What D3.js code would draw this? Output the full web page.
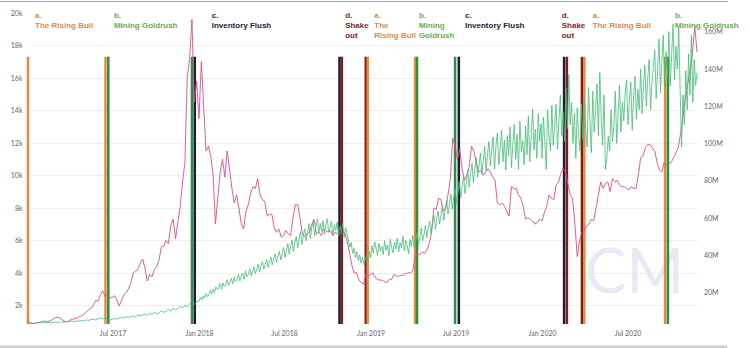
<!DOCTYPE html>
<html>
<head>
<meta charset="utf-8">
<script src="https://cdn.jsdelivr.net/npm/d3@7"></script>
<style>
  body { margin: 0; background: #fff; }
  .axis text { font-family: Lato, 'Open Sans', sans-serif; font-size: 7px; fill: #666; }
  .axis path { display: none; }
  .phase-label { font-family: 'Liberation Sans', Arial, sans-serif; font-size: 8px; font-weight: bold; }
</style>
</head>
<body>
<div id="chart"></div>
<script>
// BTC price (thousand USD), one value every 5 days from Jan 1 of each year
const price2017 = [1.00, 0.92, 0.86, 0.90, 0.93, 0.95, 0.98, 1.03, 1.00, 1.02, 1.06, 1.17, 1.25, 1.27, 1.20, 1.10,
  1.00, 0.98, 1.08, 1.13, 1.18, 1.21, 1.30, 1.35, 1.45, 1.58, 1.72, 1.80, 2.00, 2.30, 2.25, 2.60,
  2.90, 2.55, 2.65, 2.50, 2.45, 2.60, 2.35, 1.95, 2.30, 2.65, 2.80, 3.00, 3.40, 4.00, 4.10, 4.20,
  4.60, 4.85, 4.30, 3.50, 3.90, 3.75, 4.20, 4.40, 4.80, 5.60, 5.65, 6.00, 5.80, 6.90, 7.30, 6.10,
  7.10, 8.10, 9.60, 10.80, 16.00, 17.20, 19.60, 14.50, 15.80];
const price2018 = [13.50, 17.00, 14.20, 11.50, 11.80, 11.20, 10.00, 7.00, 8.60, 10.20, 11.00, 9.90, 11.50, 10.40, 9.20, 8.30,
  8.80, 8.00, 7.00, 6.70, 7.80, 8.20, 8.90, 9.30, 9.20, 9.80, 8.80, 8.50, 8.40, 7.50, 7.60, 7.60,
  6.80, 6.50, 6.70, 6.20, 6.30, 6.60, 6.40, 6.30, 7.40, 8.20, 8.20, 7.40, 6.40, 6.20, 6.40, 6.50,
  7.00, 7.30, 6.40, 6.50, 6.30, 6.70, 6.60, 6.50, 6.60, 6.30, 6.50, 6.40, 6.40, 6.40, 6.50, 6.00,
  5.30, 4.50, 4.00, 4.00, 3.60, 3.40, 3.30, 3.90, 3.80];
const price2019 = [3.90, 4.00, 3.70, 3.60, 3.55, 3.55, 3.45, 3.40, 3.60, 3.60, 3.90, 3.80, 3.80, 3.85, 3.85, 3.95,
  4.00, 4.00, 4.10, 5.00, 5.20, 5.10, 5.30, 5.20, 5.40, 5.80, 6.50, 8.00, 7.90, 8.60, 8.50, 7.80,
  8.00, 8.80, 9.80, 12.30, 11.80, 11.00, 11.60, 10.40, 9.70, 10.00, 10.50, 11.80, 11.50, 10.80, 10.20, 10.30,
  10.00, 10.20, 10.40, 10.20, 9.90, 9.70, 8.30, 8.20, 8.30, 8.10, 7.80, 7.50, 9.30, 9.20, 9.20, 8.80,
  8.60, 8.10, 7.30, 7.40, 7.30, 7.20, 7.00, 7.10, 7.30];
const price2020 = [7.20, 7.70, 8.10, 8.80, 8.60, 8.50, 9.40, 9.60, 10.10, 10.40, 10.20, 9.50, 8.80, 8.60, 7.00, 5.00,
  6.00, 6.50, 6.60, 6.90, 7.00, 7.30, 7.20, 8.00, 8.80, 9.60, 9.20, 9.50, 9.60, 9.00, 9.80, 9.60,
  9.70, 9.40, 9.30, 9.30, 9.20, 9.10, 9.30, 9.20, 9.20, 10.00, 11.10, 11.20, 11.70, 11.90, 11.90, 11.70,
  11.50, 10.80, 10.30, 10.20, 10.80, 10.60, 10.70, 10.80, 11.10, 11.40, 11.70, 12.60, 13.60, 14.80, 15.60, 16.40,
  17.50, 19.20, 17.60];
const priceSteps = [5, 5, 5, 5];

// hash rate (million TH/s); 5-day spacing in 2017, 3-day spacing after
const hashRate2017 = [3.4, 3.6, 3.5, 3.3, 3.7, 3.5, 3.8, 3.6, 3.7, 3.9, 3.6, 4.0, 3.9, 3.8, 4.2, 4.0,
  4.3, 4.1, 4.4, 4.5, 4.2, 4.7, 4.5, 4.9, 4.7, 5.2, 4.9, 5.4, 5.6, 5.2, 5.8, 6.1,
  5.8, 6.3, 5.4, 5.0, 5.5, 5.9, 5.6, 6.2, 6.6, 6.1, 7.0, 6.5, 6.9, 7.4, 6.8, 7.9,
  7.3, 7.8, 8.4, 7.6, 8.7, 8.2, 9.3, 8.5, 8.9, 10.1, 9.2, 9.9, 10.8, 9.8, 11.4, 10.6,
  11.2, 12.6, 11.5, 13.2, 12.1, 13.9, 14.6, 13.3, 15.2];
const hashRate2018 = [15.2, 17.4, 16.0, 18.2, 16.8, 19.4, 17.6, 18.8, 21.0, 19.2,
  21.8, 19.8, 23.0, 21.4, 22.2, 24.6, 21.6, 25.0, 23.2, 24.0,
  26.8, 23.8, 25.4, 27.6, 24.6, 28.4, 25.8, 27.0, 29.6, 26.2,
  28.6, 30.4, 27.0, 31.6, 28.4, 29.8, 32.6, 28.8, 31.2, 33.8,
  30.0, 32.6, 35.2, 31.0, 34.0, 36.4, 32.4, 35.0, 37.6, 33.4,
  36.2, 39.0, 34.8, 38.0, 40.6, 36.0, 39.4, 42.0, 37.4, 40.8,
  44.0, 38.8, 42.6, 46.2, 40.4, 44.8, 48.0, 42.0, 46.6, 50.0,
  43.8, 48.4, 52.6, 45.6, 50.4, 54.0, 47.6, 52.2, 56.8, 49.0,
  54.4, 58.0, 50.2, 55.6, 59.4, 51.8, 57.0, 53.0, 58.6, 51.0,
  56.8, 59.6, 52.4, 55.0, 58.2, 50.6, 56.4, 53.2, 57.8, 50.2,
  55.6, 52.0, 57.2, 49.4, 54.8, 51.6, 48.0, 44.2, 46.8, 41.0,
  43.6, 38.6, 41.8, 37.0, 40.2, 35.6, 38.8, 34.8, 37.6, 40.0,
  37.0, 42.0];
const hashRate2019 = [38.5, 45.0, 41.0, 47.2, 43.5, 39.8, 46.4, 42.0, 44.8, 40.2,
  47.8, 42.6, 45.4, 39.6, 48.6, 44.0, 41.2, 47.0, 43.2, 49.0,
  41.8, 46.6, 44.0, 50.2, 42.4, 47.8, 45.2, 40.8, 48.4, 44.6,
  50.6, 43.8, 47.4, 52.0, 46.0, 49.2, 54.6, 47.8, 51.0, 56.0,
  49.4, 54.8, 58.2, 51.6, 57.0, 61.4, 54.0, 59.8, 63.6, 56.8,
  61.2, 66.8, 58.6, 64.4, 69.6, 62.0, 67.2, 72.8, 64.6, 70.4,
  75.6, 67.8, 73.2, 79.4, 70.6, 76.8, 82.4, 73.0, 79.0, 85.6,
  76.4, 83.8, 89.2, 79.0, 86.6, 92.4, 81.8, 88.0, 94.8, 83.6,
  90.8, 98.4, 85.4, 94.2, 101.0, 88.0, 96.6, 103.4, 86.2, 99.0,
  105.6, 88.4, 97.2, 107.0, 90.0, 101.8, 85.6, 104.2, 93.4, 108.8,
  87.0, 99.6, 110.2, 91.4, 104.8, 86.0, 112.0, 95.6, 101.4, 88.6,
  109.4, 93.8, 114.6, 90.2, 104.0, 118.2, 96.4, 107.6, 92.0, 116.0,
  101.2, 110.6];
const hashRate2020 = [92.0, 114.0, 101.0, 86.0, 118.0, 104.0, 96.0, 120.6, 99.0, 110.0,
  121.0, 97.0, 112.0, 126.0, 104.0, 117.0, 101.0, 130.0, 108.0, 137.0,
  110.0, 122.0, 100.0, 116.0, 92.0, 119.0, 104.0, 96.0, 121.0, 102.0,
  124.0, 108.0, 98.0, 130.0, 112.0, 95.0, 128.0, 106.0, 117.0, 132.0,
  104.0, 138.0, 114.0, 99.0, 126.0, 86.0, 92.0, 104.0, 96.0, 118.0,
  101.0, 110.0, 128.0, 100.0, 116.0, 131.0, 106.0, 122.0, 112.0, 127.0,
  134.0, 110.0, 123.0, 133.0, 107.0, 126.0, 136.0, 113.0, 129.0, 118.0,
  140.0, 116.0, 131.0, 142.0, 120.0, 135.0, 145.0, 118.0, 132.0, 141.0,
  150.0, 124.0, 139.0, 156.0, 127.0, 144.0, 158.0, 130.0, 149.0, 136.0,
  160.0, 131.0, 148.0, 164.0, 134.0, 152.0, 140.0, 162.0, 128.0, 98.0,
  126.0, 110.0, 139.0, 118.0, 148.0, 126.0, 158.0, 122.0, 145.0, 131.0,
  138.0];
const hashSteps = [5, 3, 3, 3];

const seriesYears = [2017, 2018, 2019, 2020];

// cycle phases: vertical lines mark where each phase starts / ends
const phaseKeys = ['a', 'b', 'c', 'd', 'a', 'b', 'c', 'd', 'a', 'b'];
const phaseStarts = ['2017-01-02', '2017-06-22', '2017-12-23', '2018-11-01', '2018-12-26',
  '2019-04-10', '2019-07-08', '2020-02-23', '2020-03-31', '2020-09-25'];
const phaseEnds = ['2017-06-16', '2017-12-17', '2018-10-27', '2018-12-22', '2019-04-06',
  '2019-06-30', '2020-02-17', '2020-03-26', '2020-09-19', null];
const labelDates = ['2017-01-17', '2017-07-04', '2018-01-28', '2018-11-08', '2019-01-09',
  '2019-04-14', '2019-07-21', '2020-02-12', '2020-04-18', '2020-10-10'];
const labelLines = [
  ['a.', 'The Rising Bull'], ['b.', 'Mining Goldrush'], ['c.', 'Inventory Flush'], ['d.', 'Shake', 'out'],
  ['a.', 'The', 'Rising Bull'], ['b.', 'Mining', 'Goldrush'], ['c.', 'Inventory Flush'], ['d.', 'Shake', 'out'],
  ['a.', 'The Rising Bull'], ['b.', 'Mining Goldrush']
];

const priceTicks = [2, 4, 6, 8, 10, 12, 14, 16, 18, 20];       // k USD
const hashTicks = [20, 40, 60, 80, 100, 120, 140, 160];       // M TH/s
const timeTicks = ['2017-07-01', '2018-01-01', '2018-07-01', '2019-01-01', '2019-07-01', '2020-01-01', '2020-07-01'];

class CycleChart {

  constructor(_config) {
    this.config = {
      parentElement: _config.parentElement,
      containerWidth: 750,
      containerHeight: 348,
      plot: { left: 27.5, right: 698, top: 13, bottom: 324 }
    };
    this.parseDate = d3.timeParse('%Y-%m-%d');
    this.phaseColors = { a: '#e8893b', b: '#27913f', c: '#1d1a3a', d: '#7d1c22' };
    this.labelColors = { a: '#e08a3f', b: '#6aab4e', c: '#201d3c', d: '#8a1c1e' };
    this.initVis();
  }

  // each yearly array starts on Jan 1 of its year
  buildSeries(arrays, steps) {
    let out = [];
    arrays.forEach((arr, k) => {
      const start = new Date(seriesYears[k], 0, 1);
      arr.forEach((v, i) => out.push({ date: d3.timeDay.offset(start, i * steps[k]), value: v }));
    });
    return out;
  }

  initVis() {
    let vis = this;
    const p = vis.config.plot;

    vis.svg = d3.select(vis.config.parentElement)
      .append('svg')
      .attr('width', vis.config.containerWidth)
      .attr('height', vis.config.containerHeight);

    vis.xScale = d3.scaleTime()
      .domain([new Date(2017, 0, 1), new Date(2020, 10, 28)])
      .range([p.left, p.right]);

    vis.yPrice = d3.scaleLinear()
      .domain([0.85, 20])
      .range([p.bottom, p.top]);

    vis.yHash = d3.scaleLinear()
      .domain([3, 170])
      .range([p.bottom, p.top]);

    vis.priceData = vis.buildSeries([price2017, price2018, price2019, price2020], priceSteps);
    vis.hashData = vis.buildSeries([hashRate2017, hashRate2018, hashRate2019, hashRate2020], hashSteps);

    vis.renderVis();
  }

  renderVis() {
    let vis = this;
    const p = vis.config.plot;

    // frame lines from the screenshot
    vis.svg.append('rect').attr('x', 0).attr('y', 1).attr('width', 728).attr('height', 1).attr('fill', '#a8a8a8');
    vis.svg.append('rect').attr('x', 0).attr('y', 345.5).attr('width', 727).attr('height', 3).attr('fill', '#d0d0d0');

    // gridlines
    vis.svg.append('g').selectAll('line')
      .data(priceTicks.filter(d => d < 20))
      .join('line')
      .attr('x1', p.left + 2).attr('x2', p.right)
      .attr('y1', d => Math.round(vis.yPrice(d)) + 0.5)
      .attr('y2', d => Math.round(vis.yPrice(d)) + 0.5)
      .attr('stroke', '#eeeeee')
      .attr('stroke-width', 1);

    // watermark
    vis.svg.append('text')
      .attr('x', 585).attr('y', 293)
      .attr('font-family', 'Lato, sans-serif')
      .attr('font-size', 62)
      .attr('fill', '#e6eaf2')
      .text('CM');

    // axes
    vis.svg.append('g')
      .attr('class', 'axis')
      .attr('transform', `translate(0,${p.bottom})`)
      .call(d3.axisBottom(vis.xScale)
        .tickValues(timeTicks.map(vis.parseDate))
        .tickSize(0).tickPadding(7)
        .tickFormat(d3.timeFormat('%b %Y')));

    vis.svg.append('g')
      .attr('class', 'axis')
      .attr('transform', `translate(${p.left},0)`)
      .call(d3.axisLeft(vis.yPrice)
        .tickValues(priceTicks)
        .tickSize(0).tickPadding(5)
        .tickFormat(d => d + 'k'));

    vis.svg.append('g')
      .attr('class', 'axis')
      .attr('transform', `translate(${p.right},0)`)
      .call(d3.axisRight(vis.yHash)
        .tickValues(hashTicks)
        .tickSize(0).tickPadding(6)
        .tickFormat(d => d + 'M'));

    // phase boundary lines
    let bounds = [];
    phaseKeys.forEach((k, i) => {
      bounds.push({ date: vis.parseDate(phaseStarts[i]), key: k });
      if (phaseEnds[i]) bounds.push({ date: vis.parseDate(phaseEnds[i]), key: k });
    });
    const phaseTop = 17.3;
    vis.svg.append('g').selectAll('line')
      .data(bounds)
      .join('line')
      .attr('x1', d => vis.xScale(d.date)).attr('x2', d => vis.xScale(d.date))
      .attr('y1', vis.yPrice(phaseTop)).attr('y2', p.bottom)
      .attr('stroke', d => vis.phaseColors[d.key])
      .attr('stroke-width', 2.5);

    // series
    vis.svg.append('path')
      .datum(vis.priceData)
      .attr('fill', 'none')
      .attr('stroke', '#dc4d86')
      .attr('stroke-width', 0.9)
      .attr('d', d3.line().x(d => vis.xScale(d.date)).y(d => vis.yPrice(d.value)));

    vis.svg.append('path')
      .datum(vis.hashData)
      .attr('fill', 'none')
      .attr('stroke', '#43be75')
      .attr('stroke-width', 0.8)
      .attr('d', d3.line().x(d => vis.xScale(d.date)).y(d => vis.yHash(d.value)));

    // phase labels
    const labels = vis.svg.append('g').selectAll('text')
      .data(labelDates.map((d, i) => ({ date: vis.parseDate(d), key: phaseKeys[i], lines: labelLines[i] })))
      .join('text')
      .attr('class', 'phase-label')
      .attr('x', d => vis.xScale(d.date))
      .attr('y', 17.5)
      .attr('fill', d => vis.labelColors[d.key]);

    labels.selectAll('tspan')
      .data(d => d.lines.map(t => ({ t, x: vis.xScale(d.date) })))
      .join('tspan')
      .attr('x', d => d.x)
      .attr('dy', (d, i) => i === 0 ? 0 : 10)
      .text(d => d.t);
  }
}

new CycleChart({ parentElement: '#chart' });
</script>
</body>
</html>
